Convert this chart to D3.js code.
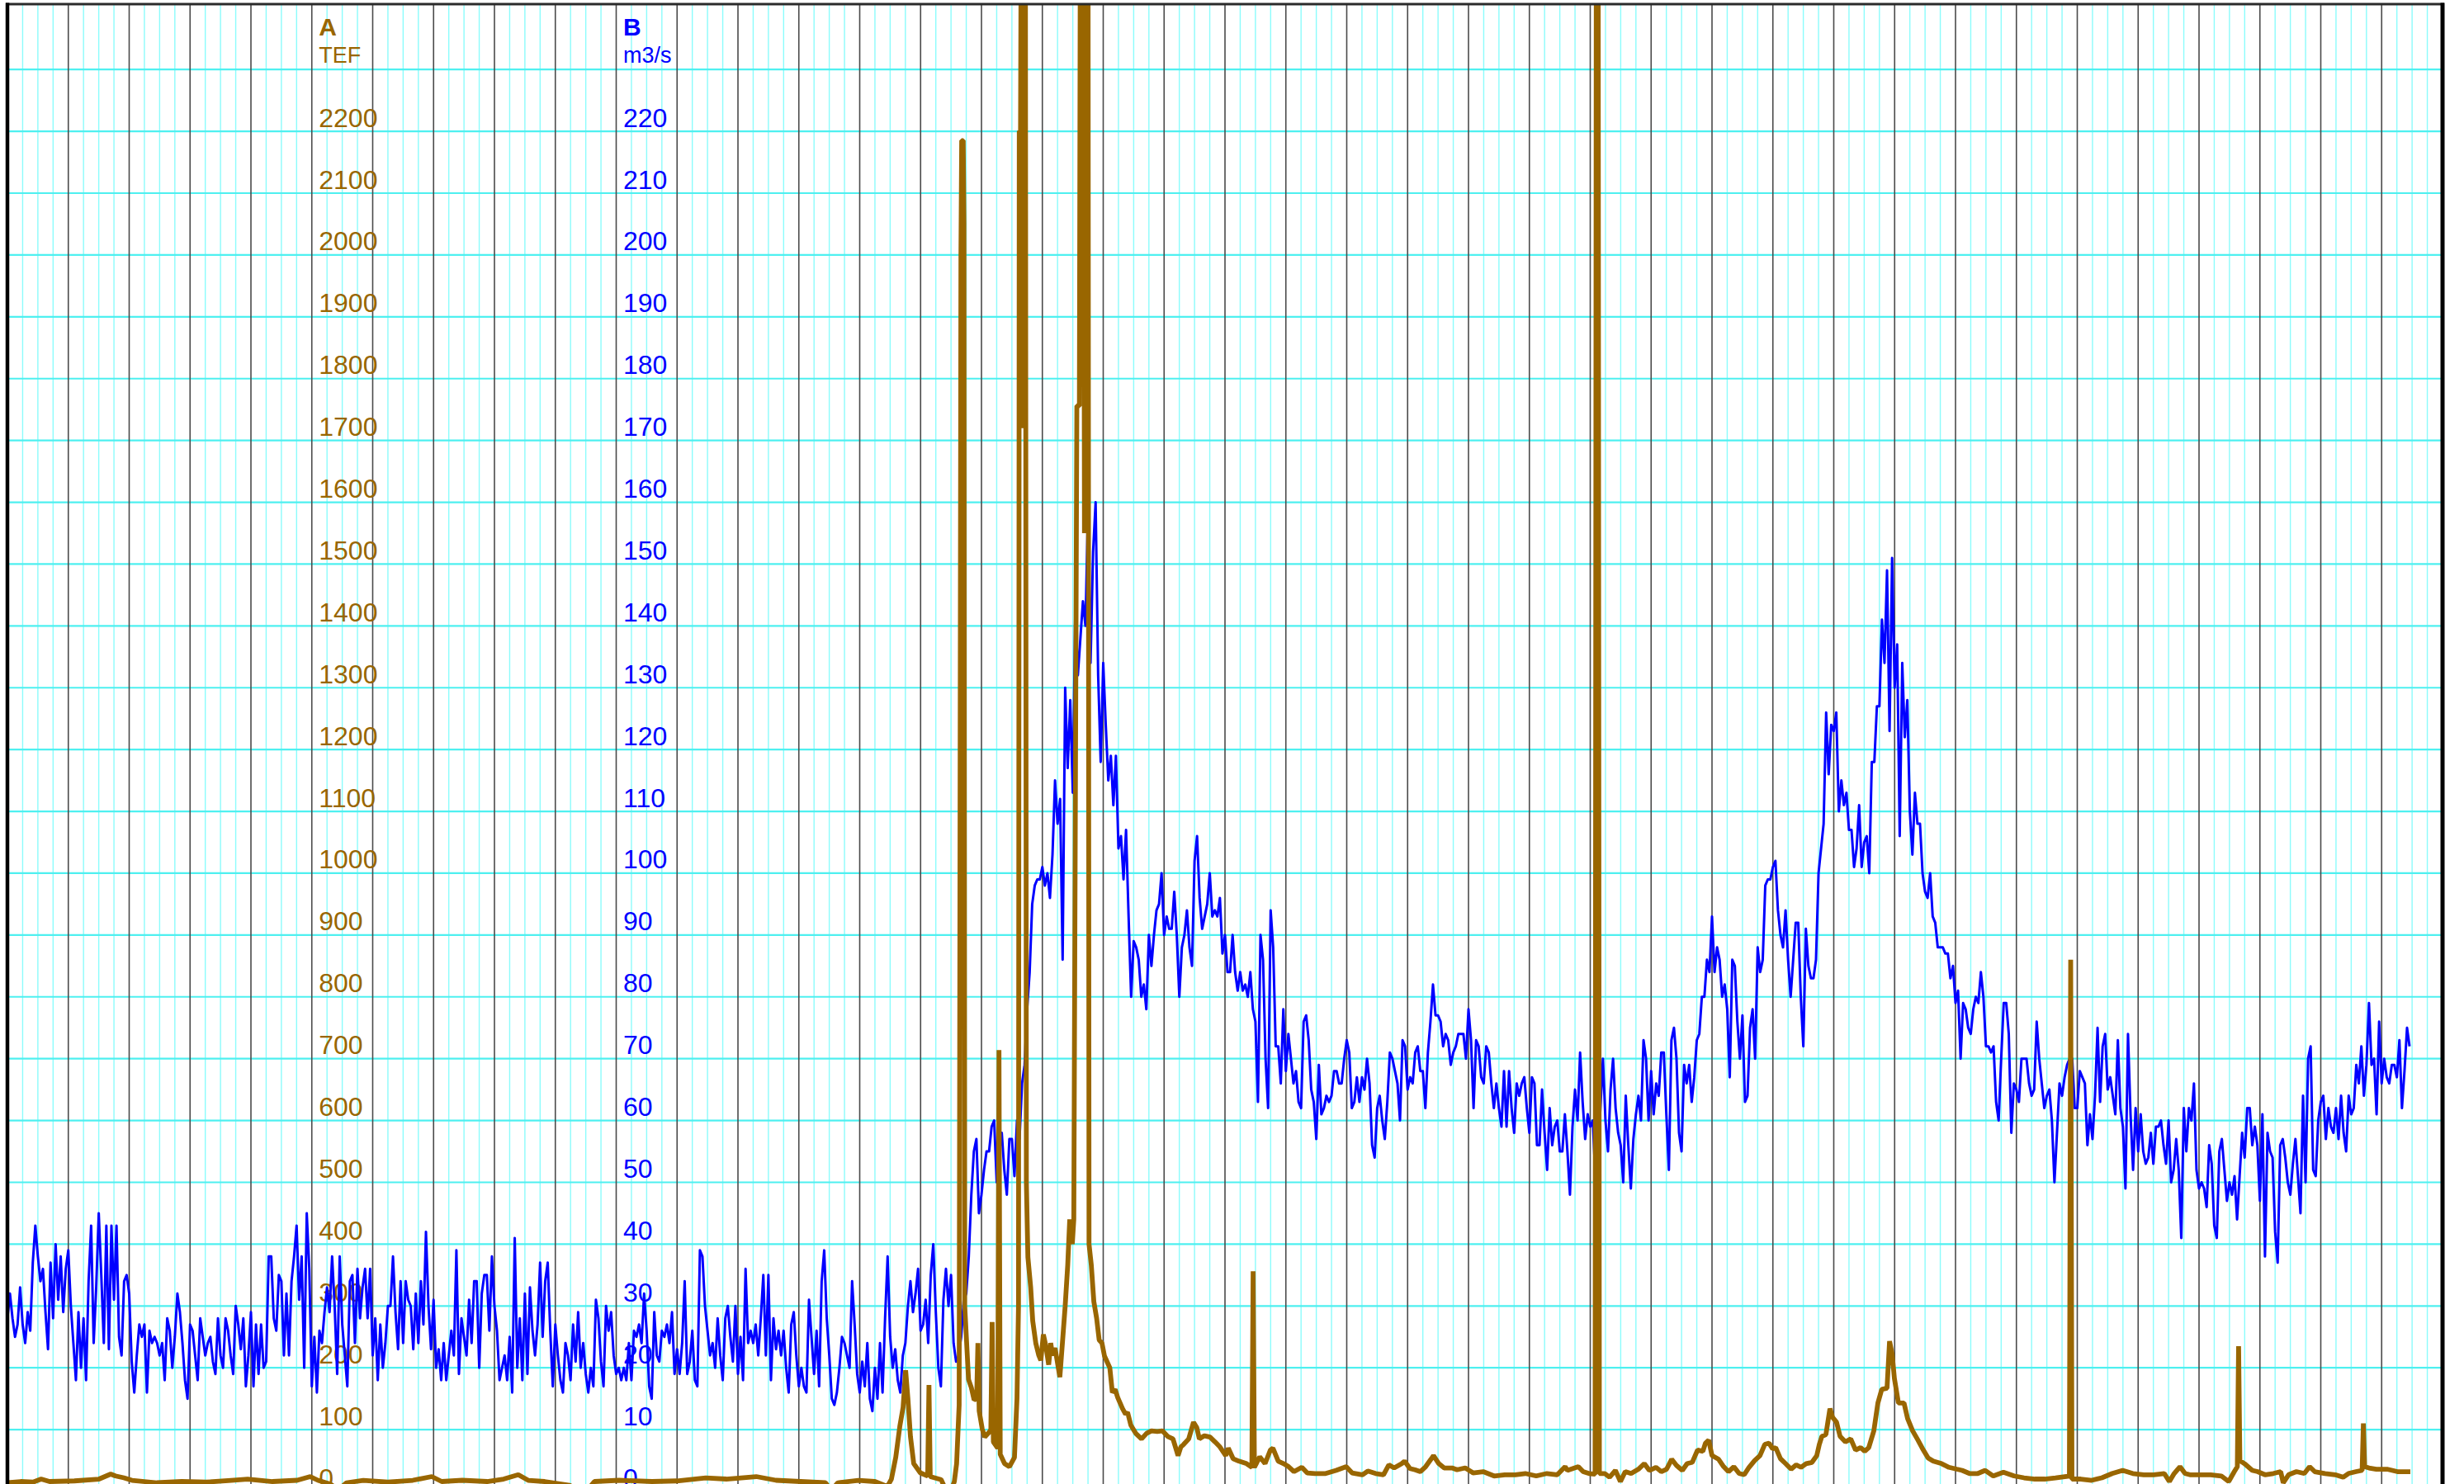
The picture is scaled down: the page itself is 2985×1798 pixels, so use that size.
<!DOCTYPE html>
<html>
<head>
<meta charset="utf-8">
<script src="https://cdnjs.cloudflare.com/ajax/libs/d3/7.8.5/d3.min.js"></script>
<style>
html, body { margin: 0; padding: 0; background: #fff; overflow: hidden; }
svg { display: block; }
</style>
</head>
<body>
<svg id="chart"></svg>
<script>
// B series (m3/s), one value per sample, 24 samples per major grid column
const flow = [
  28,32,28,25,27,33,27,24,29,26,37,43,38,34,36,29,23,37,28,40,31,38,29,36,
  39,30,24,18,29,20,28,18,34,43,24,33,45,35,24,43,23,43,31,43,25,22,34,35,
  32,21,16,22,27,25,27,16,26,24,25,24,22,24,18,28,26,20,25,32,29,24,18,15,
  27,26,22,18,28,25,22,24,25,21,19,28,22,20,28,26,22,19,30,27,23,28,17,22,
  29,17,27,19,27,20,21,38,38,28,26,35,34,22,32,22,34,38,43,31,38,20,45,36,
  17,25,16,26,24,29,33,29,38,30,19,38,27,22,17,34,35,24,36,28,33,36,28,36,
  22,28,18,27,20,24,30,30,38,29,23,34,24,34,31,30,23,32,24,34,27,42,30,23,
  31,20,23,18,24,18,22,26,22,39,19,28,25,22,31,24,34,34,20,32,35,35,26,38,
  30,26,18,20,22,18,25,16,41,20,28,18,32,19,33,26,22,27,37,25,34,37,26,17,
  27,22,18,16,24,22,18,27,21,29,20,24,19,16,20,17,31,28,21,17,30,26,29,22,
  19,20,18,20,18,24,18,26,25,27,24,32,26,17,15,29,22,21,26,25,27,24,29,19,
  23,19,24,34,19,21,26,18,17,39,38,30,26,22,24,20,28,22,18,28,30,25,21,30,
  19,25,18,36,24,26,24,27,22,28,35,22,35,18,28,23,26,22,26,20,16,27,29,22,
  17,20,17,16,31,25,19,26,17,34,39,28,22,15,14,16,20,25,24,22,20,34,27,19,
  16,21,17,24,15,13,20,15,24,16,28,38,25,20,23,18,16,22,24,30,34,29,32,36,
  26,27,31,24,35,40,29,20,17,31,36,30,35,24,21,22,25,31,32,38,48,55,57,45,
  48,52,55,55,59,60,50,55,58,52,48,57,57,51,60,57,66,69,78,84,95,98,99,99,
  101,98,100,96,103,115,108,112,86,130,117,128,113,143,132,138,144,140,159,134,152,160,132,118,
  134,124,115,119,111,119,104,106,99,107,93,80,89,88,86,80,82,78,90,85,90,94,95,100,
  90,93,91,91,97,90,80,88,90,94,88,85,102,106,96,91,93,95,100,93,94,93,96,87,
  90,84,84,90,84,81,84,81,82,80,84,78,76,63,90,86,70,62,94,88,72,72,66,78,
  68,74,70,66,68,63,62,76,77,73,65,63,57,69,61,62,64,63,64,68,68,66,66,70,
  73,71,62,63,67,63,67,65,70,66,56,54,62,64,60,57,63,71,70,68,66,60,73,72,
  65,67,66,71,72,68,68,62,71,76,82,77,77,76,72,74,73,69,71,72,74,74,74,70,
  78,73,62,73,72,67,66,72,71,66,62,66,62,59,68,59,68,62,58,66,64,66,67,62,
  58,67,66,56,56,65,58,52,62,56,59,60,55,55,61,55,48,59,65,60,71,63,57,61,
  59,60,51,55,62,70,60,55,65,70,62,58,56,50,64,56,49,57,61,64,60,73,70,60,
  68,61,66,64,71,71,61,52,73,75,70,58,55,69,66,69,63,67,73,74,80,80,86,84,
  93,84,88,86,80,82,78,67,86,85,76,70,77,63,64,75,78,70,88,84,86,98,99,99,
  101,102,94,90,88,94,86,80,86,92,92,80,72,91,85,83,83,86,100,104,108,126,116,124,
  123,126,110,115,111,113,107,107,101,104,111,101,105,106,100,118,118,127,127,141,134,149,123,151,
  130,137,106,134,122,128,110,103,113,108,108,100,97,96,100,93,92,88,88,88,87,87,83,85,
  79,81,70,79,78,75,74,78,80,79,84,80,72,72,71,72,63,60,70,79,79,74,58,66,
  65,63,70,70,70,66,64,65,76,70,66,62,64,65,60,50,58,66,64,67,69,70,70,62,
  62,68,67,66,56,61,57,64,75,63,72,74,65,67,64,61,73,62,59,49,74,61,52,62,
  55,61,55,53,54,58,53,59,59,60,56,53,60,50,52,57,52,41,62,55,62,60,66,52,
  49,50,49,46,56,53,43,41,55,57,52,47,50,48,51,44,51,58,54,62,62,56,59,56,
  47,61,38,58,55,54,42,37,56,57,54,50,48,53,57,51,45,64,50,70,72,52,51,60,
  63,64,57,62,59,58,62,57,64,58,55,64,61,62,69,66,72,64,69,79,69,70,61,76,
  66,70,67,66,69,69,67,73,62,68,75,72
];

// A series (TEF): [sample, value]
const tef = [
  [0,14],[5.2,16],[10.1,15],[13.3,20],[16.6,16],[26.4,17],[36.1,20],[40.7,28],[42.6,25],[45.9,22],
  [49.1,18],[58.9,14],[68.7,16],[78.4,15],[88.2,18],[94.7,20],[104.5,16],[114.2,18],[119.4,24],[122.4,18],
  [127.2,12],[130.5,3],[133.7,14],[140.3,18],[150,15],[159.8,18],[167.3,24],[171.2,16],[179.3,18],[189.1,16],
  [195.6,20],[201.4,27],[205.3,18],[211.8,16],[221.6,10],[224.9,2],[228.8,3],[231.4,16],[241.1,18],[254.1,16],
  [263.9,17],[275.3,22],[283.4,20],[295.2,24],[303,18],[312.7,16],[322.5,14],[324.8,2],[327.4,14],[335.5,18],
  [342,16],[346.9,8],[348.5,20],[350.2,55],[351.8,105],[353.1,136],[354.1,196],[355,150],[356,89],[357.3,45],
  [359.9,30],[362.8,25],[363.3,172],[363.8,24],[368.1,19],[370,2],[371.9,0],[373.3,16],[374.2,45],[375.2,140],
  [375.9,1996],[376.2,2185],[376.8,2185],[377.1,2052],[377.4,300],[378.9,181],[380,168],[381.1,148],[382.1,150],[382.6,240],
  [383.1,130],[384.3,101],[385.3,88],[386.9,95],[387.7,100],[388.2,274],[388.7,80],[390.4,70],[390.9,714],[391.4,60],
  [393.1,45],[395,40],[397,55],[398,150],[398.6,300],[398.9,2200],[399.4,2200],[399.7,2600],[400.4,2600],[400.7,1720],
  [401,2600],[401.3,2600],[401.7,500],[402.3,379],[403.4,330],[404.2,276],[405.4,240],[406.6,220],[407.4,212],[408.4,254],
  [409.4,235],[410.5,205],[411.3,240],[412,220],[413,232],[413.9,210],[414.9,185],[416,245],[417,300],[418,366],
  [418.8,440],[419.8,400],[420.4,440],[421.6,1756],[422.6,1756],[423,2600],[424.2,2600],[424.6,1550],[425,2600],[426,2600],
  [426.4,400],[427.3,366],[428.3,307],[429.4,280],[430.4,245],[431.5,240],[432.5,219],[434.6,200],[435.6,160],[436.7,165],
  [437.7,152],[439.6,134],[440.8,125],[441.6,128],[442.9,107],[444.8,94],[447.1,85],[449.1,94],[451,98],[453.3,97],
  [455.3,98],[457.4,89],[459.5,85],[461.5,58],[462.6,72],[463.7,76],[465.7,85],[467.6,112],[468.9,103],[469.9,85],
  [471.9,90],[474.1,88],[476.1,80],[478,72],[480.3,58],[481.3,70],[483.2,53],[485.5,49],[488.5,45],[490.6,39],
  [491.1,356],[491.6,39],[493.7,56],[495.8,45],[497.9,67],[498.9,70],[501,49],[503.1,45],[505.1,40],[507.2,32],
  [510.3,39],[512.4,30],[515.5,29],[519.7,29],[523.8,34],[527.8,40],[530.1,30],[534.2,27],[536.3,33],[539.4,29],
  [542.5,27],[544.6,43],[546.7,38],[549.7,45],[550.8,49],[552.9,37],[554.9,35],[557,32],[559.1,40],[561.2,52],
  [562.2,58],[564.3,45],[566.4,38],[569.5,38],[571.5,35],[574.7,38],[577.8,30],[581.8,32],[586.1,25],[590.3,27],
  [594.4,27],[598.4,29],[602.7,25],[606.9,29],[611,27],[614.1,40],[615,34],[619.3,40],[621.2,32],[623.5,29],
  [625.9,28],[626.4,2600],[627.1,2600],[627.6,29],[629.7,29],[631.6,23],[633.9,34],[635.9,16],[637.8,32],[640.1,29],
  [643,36],[645.3,45],[647.3,34],[649.9,39],[652,32],[654.1,36],[656.1,52],[658,42],[660.3,34],[662.2,45],
  [664.2,47],[666.3,67],[668.4,65],[669.4,78],[670.7,83],[672,58],[674.6,52],[676.6,40],[678.5,32],[680.6,40],
  [682.7,29],[684.7,27],[686.6,39],[688.8,50],[690.9,58],[692.8,76],[694.5,78],[695.9,69],[697.1,71],[699,53],
  [701,45],[703.2,36],[705.2,43],[707.1,39],[709.1,45],[711.4,47],[713.3,58],[714.3,76],[715.3,89],[716.9,92],
  [718.5,134],[719.5,120],[721.1,112],[722.5,89],[724.6,80],[726.7,85],[728.6,67],[730.6,71],[732.2,65],[733.8,71],
  [735.8,98],[737.4,143],[738.9,165],[741,167],[742,243],[743,223],[743.9,183],[745.5,143],[747.7,143],[749.1,118],
  [751.1,98],[753.2,83],[755.3,67],[757.2,54],[759.2,49],[762.5,45],[765.4,39],[768.5,36],[770.6,34],[773.5,29],
  [776.8,29],[779.7,34],[782.9,25],[786.9,31],[791.1,25],[795,22],[799.3,20],[803.2,20],[807.4,22],[812.9,25],
  [813.4,860],[813.9,20],[817.4,20],[821.7,18],[825.7,22],[829.8,29],[833.9,34],[837.9,29],[842.2,27],[846.1,27],
  [850.3,29],[852.3,16],[854.2,29],[856.5,40],[858.5,29],[860.4,27],[864.7,27],[868.6,27],[872.8,25],[875.7,16],
  [877.9,32],[879.1,40],[879.6,235],[880.1,50],[881.9,45],[885,34],[887.1,32],[890,27],[893.3,29],[896.2,32],
  [897.2,14],[899.3,27],[902.4,32],[905.5,29],[907.6,40],[909.6,32],[913.7,29],[917.7,27],[920.8,23],[922.9,29],
  [925.9,32],[928.3,34],[928.8,110],[929.3,40],[931,38],[933.9,36],[938.1,36],[942.2,32],[947.3,32]
];

const tefTicks = [0,100,200,300,400,500,600,700,800,900,1000,1100,1200,1300,1400,1500,1600,1700,1800,1900,2000,2100,2200];
const flowTicks = [0,10,20,30,40,50,60,70,80,90,100,110,120,130,140,150,160,170,180,190,200,210,220];

const W = 2985, H = 1798;
const brown = "#996600", blue = "#0000ff";
const font = "'Liberation Sans', Arial, sans-serif";

const svg = d3.select("#chart").attr("width", W).attr("height", H);

const x = d3.scaleLinear().domain([0, 960]).range([9, 2959]);
const yA = d3.scaleLinear().domain([0, 2400]).range([1807, 9.3]);
const yB = d3.scaleLinear().domain([0, 240]).range([1807, 9.3]);

// grid
const grid = svg.append("g");
grid.selectAll(".minor")
    .data(d3.range(6, 960, 6).filter(d => d % 24 !== 0))
    .join("line")
    .attr("x1", d => x(d)).attr("x2", d => x(d))
    .attr("y1", 5).attr("y2", H)
    .attr("stroke", "#8cfcfc").attr("stroke-width", 1.4);
grid.selectAll(".hline")
    .data(d3.range(100, 2400, 100))
    .join("line")
    .attr("x1", x(0)).attr("x2", x(960))
    .attr("y1", d => yA(d)).attr("y2", d => yA(d))
    .attr("stroke", "#4ef0f0").attr("stroke-width", 2.2);
grid.selectAll(".major")
    .data(d3.range(24, 960, 24))
    .join("line")
    .attr("x1", d => x(d)).attr("x2", d => x(d))
    .attr("y1", 5).attr("y2", H)
    .attr("stroke", "#4a4a4a").attr("stroke-width", 1.6);

// axes (labels only)
function styleAxis(g, color) {
    g.select(".domain").remove();
    g.selectAll(".tick line").remove();
    g.selectAll("text")
        .attr("dy", null).attr("y", -6)
        .attr("fill", color)
        .style("font-family", font).style("font-size", "32px");
}
svg.append("g")
    .attr("transform", "translate(" + x(120) + ",0)")
    .call(d3.axisRight(yA).tickValues(tefTicks).tickSize(0).tickPadding(8.5).tickFormat(d3.format("d")))
    .call(g => styleAxis(g, brown));
svg.append("g")
    .attr("transform", "translate(" + x(240) + ",0)")
    .call(d3.axisRight(yB).tickValues(flowTicks).tickSize(0).tickPadding(8.5).tickFormat(d3.format("d")))
    .call(g => styleAxis(g, blue));

function title(xPos, name, unit, color) {
    svg.append("text").attr("x", xPos).attr("y", 43).text(name)
        .attr("fill", color).style("font-family", font).style("font-size", "30px").style("font-weight", "bold");
    svg.append("text").attr("x", xPos).attr("y", 76).text(unit)
        .attr("fill", color).style("font-family", font).style("font-size", "27px");
}
title(x(120) + 8.5, "A", "TEF", brown);
title(x(240) + 8.5, "B", "m3/s", blue);

// lines
svg.append("clipPath").attr("id", "plot")
    .append("rect").attr("x", x(0)).attr("y", 5).attr("width", x(960) - x(0)).attr("height", 1900);

const plot = svg.append("g").attr("clip-path", "url(#plot)");
plot.append("path")
    .datum(flow)
    .attr("fill", "none").attr("stroke", blue).attr("stroke-width", 3)
    .attr("stroke-linejoin", "round")
    .attr("d", d3.line().x((d, i) => x(i)).y(d => yB(d)));
plot.append("path")
    .datum(tef)
    .attr("fill", "none").attr("stroke", brown).attr("stroke-width", 5.8)
    .attr("stroke-linejoin", "miter").attr("stroke-miterlimit", 1)
    .attr("d", d3.line().x(d => x(d[0])).y(d => yA(d[1])));

// frame
svg.append("line").attr("x1", 7).attr("x2", 2961).attr("y1", 5).attr("y2", 5)
    .attr("stroke", "#2a2a2a").attr("stroke-width", 3);
svg.append("line").attr("x1", x(0)).attr("x2", x(0)).attr("y1", 3.5).attr("y2", H)
    .attr("stroke", "#000").attr("stroke-width", 4.5);
svg.append("line").attr("x1", x(960)).attr("x2", x(960)).attr("y1", 3.5).attr("y2", H)
    .attr("stroke", "#000").attr("stroke-width", 5);
</script>
</body>
</html>
